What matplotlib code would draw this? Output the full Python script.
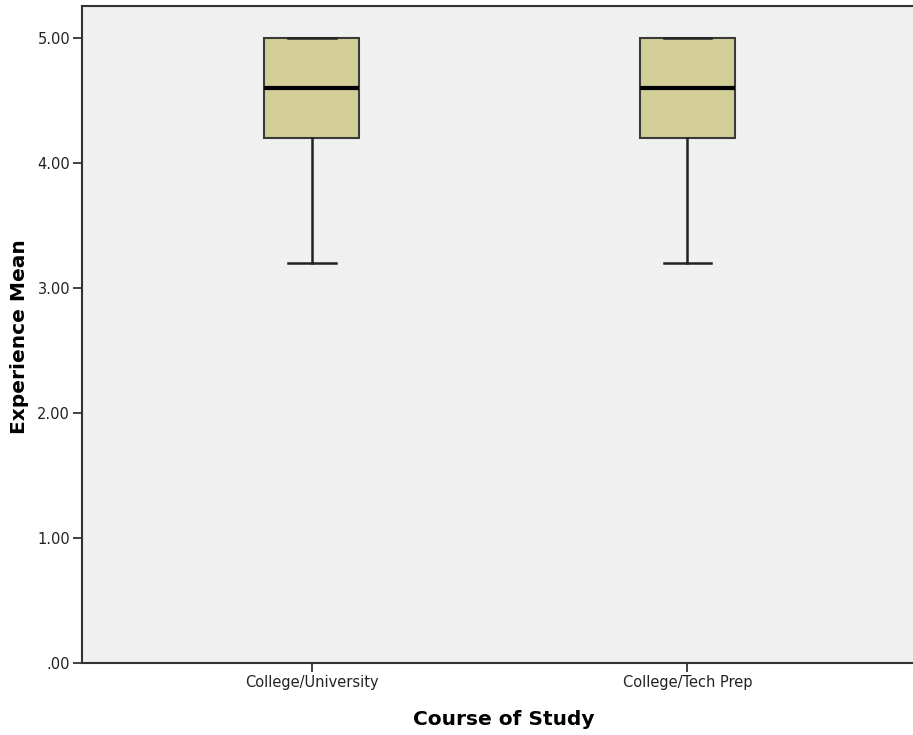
import matplotlib.pyplot as plt

plt.rcParams['font.family'] = ['DejaVu Sans']

categories = ["College/University", "College/Tech Prep"]
whisker_low = [3.2, 3.2]
q1 = [4.2, 4.2]
median = [4.6, 4.6]
q3 = [5.0, 5.0]
whisker_high = [5.0, 5.0]
yticks = [0, 1, 2, 3, 4, 5]
ytick_labels = [".00", "1.00", "2.00", "3.00", "4.00", "5.00"]

stats = []
for i, name in enumerate(categories):
    stats.append({
        "label": name,
        "whislo": whisker_low[i],
        "q1": q1[i],
        "med": median[i],
        "q3": q3[i],
        "whishi": whisker_high[i],
        "fliers": [],
    })

fig = plt.figure(figsize=(9.13, 7.35), dpi=100)
ax = fig.add_axes([82 / 913, 72 / 735, 1 - 82 / 913, (663 - 6) / 735])
ax.set_facecolor("#f0f0f0")

ax.bxp(stats, positions=[1, 2], widths=0.254, patch_artist=True,
       showfliers=False,
       boxprops=dict(facecolor="#d3ce98", edgecolor="#3a3a3a", linewidth=1.5),
       medianprops=dict(color="black", linewidth=3),
       whiskerprops=dict(color="#222222", linewidth=1.8),
       capprops=dict(color="#222222", linewidth=1.8),
       capwidths=0.127)

ax.set_xlim(0.389, 2.6)
ax.set_ylim(0, 5.26)
ax.set_yticks(yticks)
ax.set_yticklabels(ytick_labels)
ax.set_xticks([1, 2])
ax.set_xticklabels(categories)

for side in ["left", "bottom", "top"]:
    ax.spines[side].set_color("#333333")
    ax.spines[side].set_linewidth(1.5)
ax.spines["right"].set_visible(False)

ax.tick_params(axis="both", direction="out", length=6.5, width=1.3,
               color="#333333", labelsize=10.5, labelcolor="#222222", pad=2)

ax.set_xlabel("Course of Study", fontsize=14.5, fontweight="bold")
ax.set_ylabel("Experience Mean", fontsize=14.5, fontweight="bold")
ax.xaxis.set_label_coords(0.507, -0.072)
ax.yaxis.set_label_coords(-0.0638, 0.497)

fig.savefig("out.png", dpi=100)
